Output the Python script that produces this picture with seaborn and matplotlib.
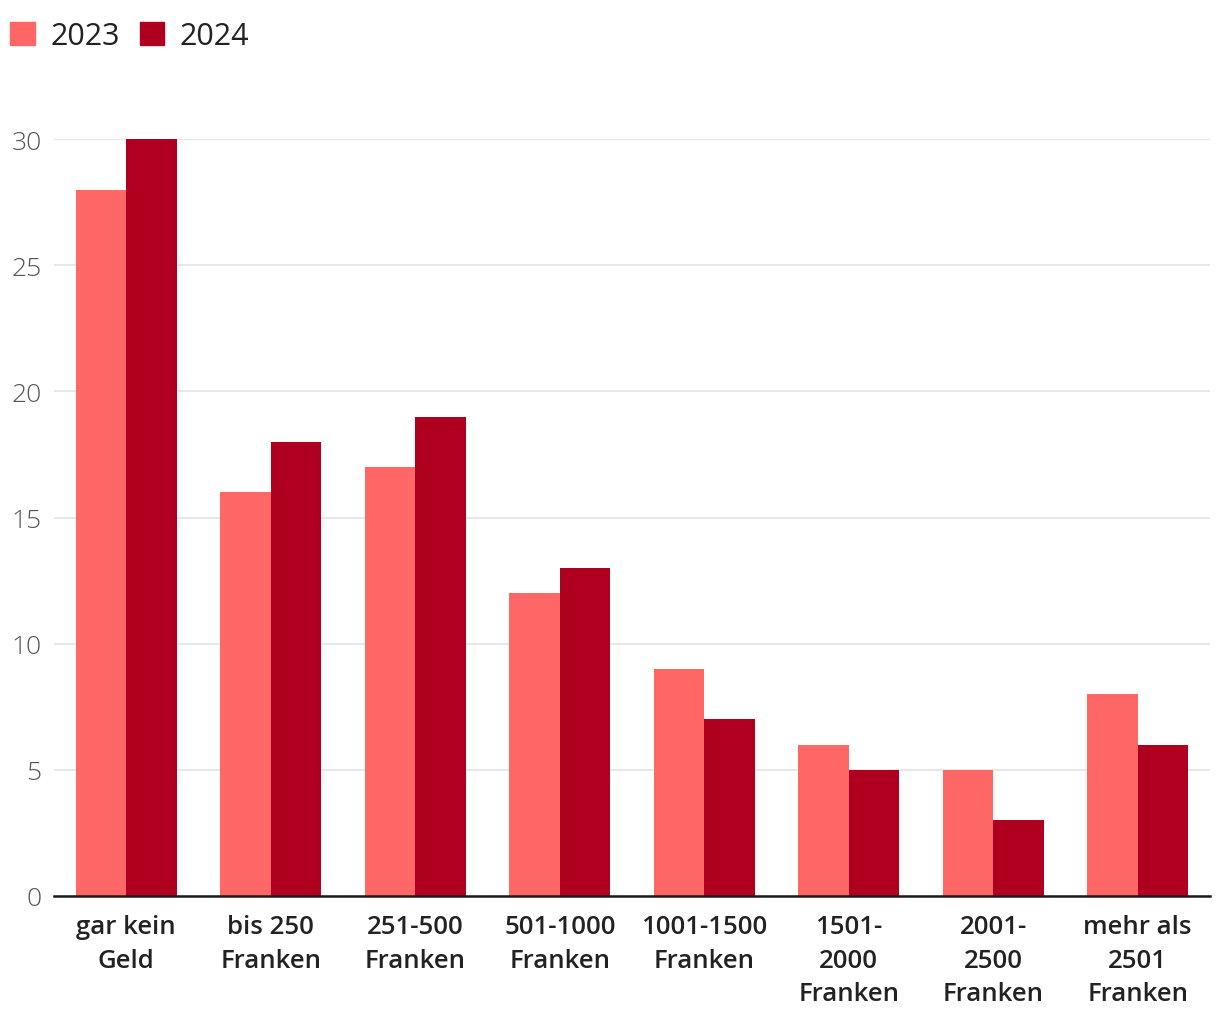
import matplotlib
matplotlib.use("Agg")
import matplotlib.pyplot as plt
import matplotlib.patches as mpatches
import seaborn as sns
import pandas as pd

# -------------------- DATA --------------------
categories = ["gar kein\nGeld", "bis 250\nFranken", "251-500\nFranken", "501-1000\nFranken",
              "1001-1500\nFranken", "1501-\n2000\nFranken", "2001-\n2500\nFranken",
              "mehr als\n2501\nFranken"]
values_2023 = [28, 16, 17, 12, 9, 6, 5, 8]
values_2024 = [30, 18, 19, 13, 7, 5, 3, 6]
years = ["2023", "2024"]
colors = ["#ff6666", "#b00020"]

df = pd.DataFrame({
    "Kategorie": categories * 2,
    "Wert": values_2023 + values_2024,
    "Jahr": [years[0]] * len(categories) + [years[1]] * len(categories),
})

# -------------------- STYLE --------------------
sns.set_theme(style="white")
plt.rcParams['font.family'] = ['Open Sans', 'DejaVu Sans']

fig = plt.figure(figsize=(12.2, 10.2), dpi=100)
ax = fig.add_axes([0.0443, 0.1206, 0.9475, 0.7421])

sns.barplot(data=df, x="Kategorie", y="Wert", hue="Jahr", palette=colors,
            width=0.7, saturation=1, linewidth=0, ax=ax, legend=False, zorder=3)

ax.set_ylim(0, 30)
ax.set_xlim(-0.5, len(categories) - 0.5)
ax.set_yticks([0, 5, 10, 15, 20, 25, 30])
ax.yaxis.grid(True, color="#e3e3e3", linewidth=1.2, zorder=0)
ax.set_axisbelow(True)
for s in ["top", "right", "left"]:
    ax.spines[s].set_visible(False)
ax.spines["bottom"].set_color("#1a1a1a")
ax.spines["bottom"].set_linewidth(1.8)
ax.spines["bottom"].set_zorder(4)

ax.set_xlabel("")
ax.set_ylabel("")
ax.tick_params(axis="y", length=0, pad=9, labelsize=19, labelcolor="#555555")
ax.tick_params(axis="x", length=0, pad=13, labelsize=18.5, labelcolor="#222222")
for lbl in ax.get_yticklabels():
    lbl.set_fontweight("light")
for lbl in ax.get_xticklabels():
    lbl.set_fontweight("semibold")
    lbl.set_linespacing(1.45)
    lbl.set_verticalalignment("top")

# Legend
handles = [mpatches.Patch(color=c, label=y) for c, y in zip(colors, years)]
fig.legend(handles=handles, loc="upper left", bbox_to_anchor=(-0.014, 1.005), ncol=2,
           frameon=False, fontsize=22, handlelength=0.8, handleheight=0.8,
           handletextpad=0.5, columnspacing=0.65, labelcolor="#222222")

fig.savefig("out.png", dpi=100)
